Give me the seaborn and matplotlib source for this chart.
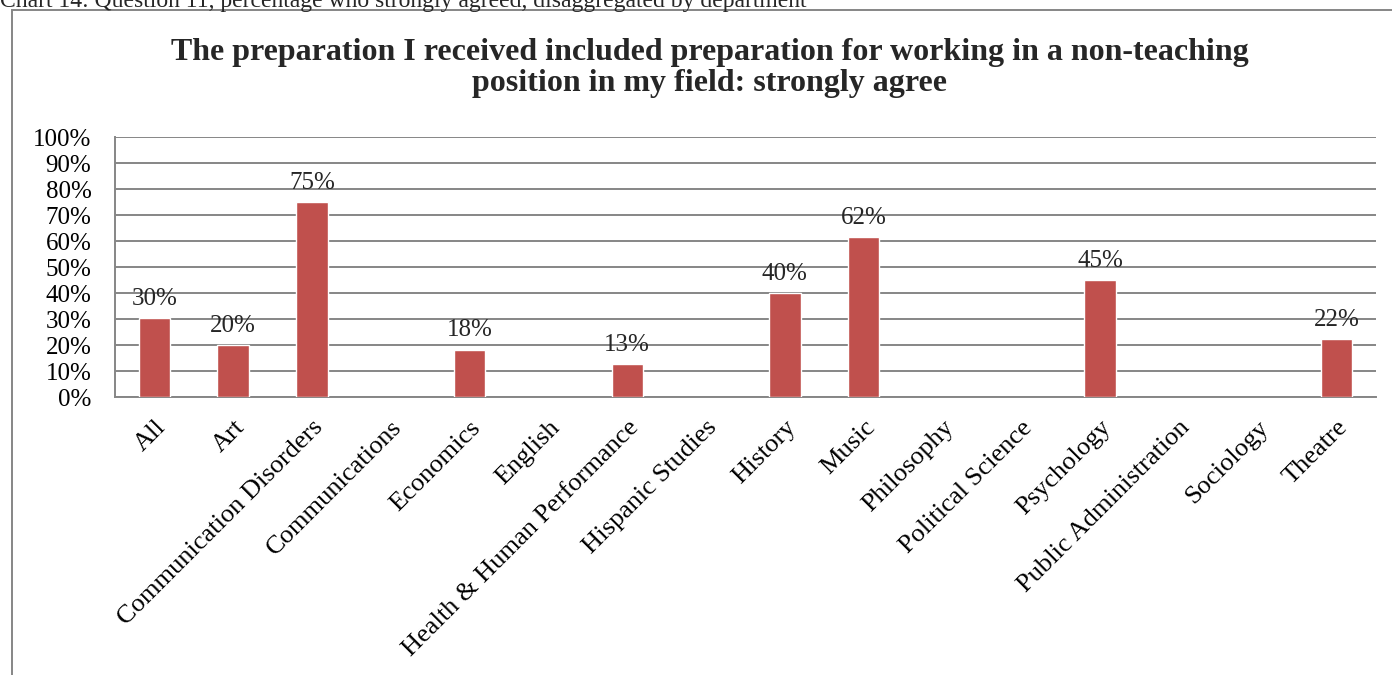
import numpy as np
import pandas as pd
import matplotlib
matplotlib.use("Agg")
import matplotlib.pyplot as plt
from matplotlib.patches import Rectangle
from matplotlib.ticker import FixedLocator, PercentFormatter
import seaborn as sns

# Departments and share who strongly agreed (NaN = no bar)
departments = ['All', 'Art', 'Communication Disorders', 'Communications', 'Economics',
               'English', 'Health & Human Performance', 'Hispanic Studies', 'History',
               'Music', 'Philosophy', 'Political Science', 'Psychology',
               'Public Administration', 'Sociology', 'Theatre']
strongly_agree = [30.4, 20.0, 75.0, np.nan, 18.2, np.nan, 12.7, np.nan, 40.0,
                  61.5, np.nan, np.nan, 45.0, np.nan, np.nan, 22.2]
yticks = list(range(0, 101, 10))

title = ('The preparation I received included preparation for working in a non-teaching\n'
         'position in my field: strongly agree')
caption = 'Chart 14: Question 11, percentage who strongly agreed, disaggregated by department'

df = pd.DataFrame({'dept': departments, 'pct': strongly_agree})

sns.set_style('white')
plt.rcParams['font.family'] = ['Liberation Serif', 'DejaVu Serif']

fig = plt.figure(figsize=(13.92, 6.75), dpi=100)
ax = fig.add_axes([115 / 1392, 1 - 397 / 675, (1376 - 115) / 1392, (397 - 137) / 675])

sns.barplot(data=df, x='dept', y='pct', color='#C0504D', width=0.4,
            saturation=1, ax=ax, zorder=3)

grid_c = '#868686'
ax.set_ylim(0, 100)
ax.set_xlim(-0.5, len(departments) - 0.5)
ax.set_yticks(yticks)
ax.yaxis.set_major_formatter(PercentFormatter(decimals=0))
ax.yaxis.grid(True, color=grid_c, linewidth=1.4, zorder=0)
ax.set_axisbelow(True)
ax.set_xlabel('')
ax.set_ylabel('')

for s in ['top', 'right']:
    ax.spines[s].set_visible(False)
for s in ['left', 'bottom']:
    ax.spines[s].set_color(grid_c)
    ax.spines[s].set_linewidth(1.4)

ax.tick_params(axis='y', length=6, color=grid_c, width=1.4, labelsize=18, pad=11,
               labelcolor='black')
ax.tick_params(axis='x', which='major', length=0, labelsize=19, pad=14,
               labelcolor='black')
ax.xaxis.set_minor_locator(FixedLocator(np.arange(-0.5, len(departments), 1.0)))
ax.tick_params(axis='x', which='minor', length=6, color=grid_c, width=1.4)
for lab in ax.get_xticklabels():
    lab.set_rotation(45)
    lab.set_ha('right')
    lab.set_rotation_mode('anchor')

# data labels above bars
for i, v in enumerate(strongly_agree):
    if not np.isnan(v):
        ax.annotate(f'{v:.0f}%', (i, v), xytext=(0, 6), textcoords='offset points',
                    ha='center', va='bottom', fontsize=18)

fig.text(710 / 1392, 1 - 68 / 675, title, ha='center', va='center',
         fontsize=23, fontweight='bold', linespacing=1.1)

# cropped caption and chart frame
fig.text(0, 1 - 1 / 675, caption, ha='left', va='center', fontsize=17)
fig.patches.append(Rectangle((12 / 1392, -0.1), 1.2, 1.1 - 10 / 675,
                             transform=fig.transFigure, fill=True, facecolor='white',
                             edgecolor=grid_c, linewidth=1.4, zorder=-1))

fig.savefig('out.png', dpi=100)
